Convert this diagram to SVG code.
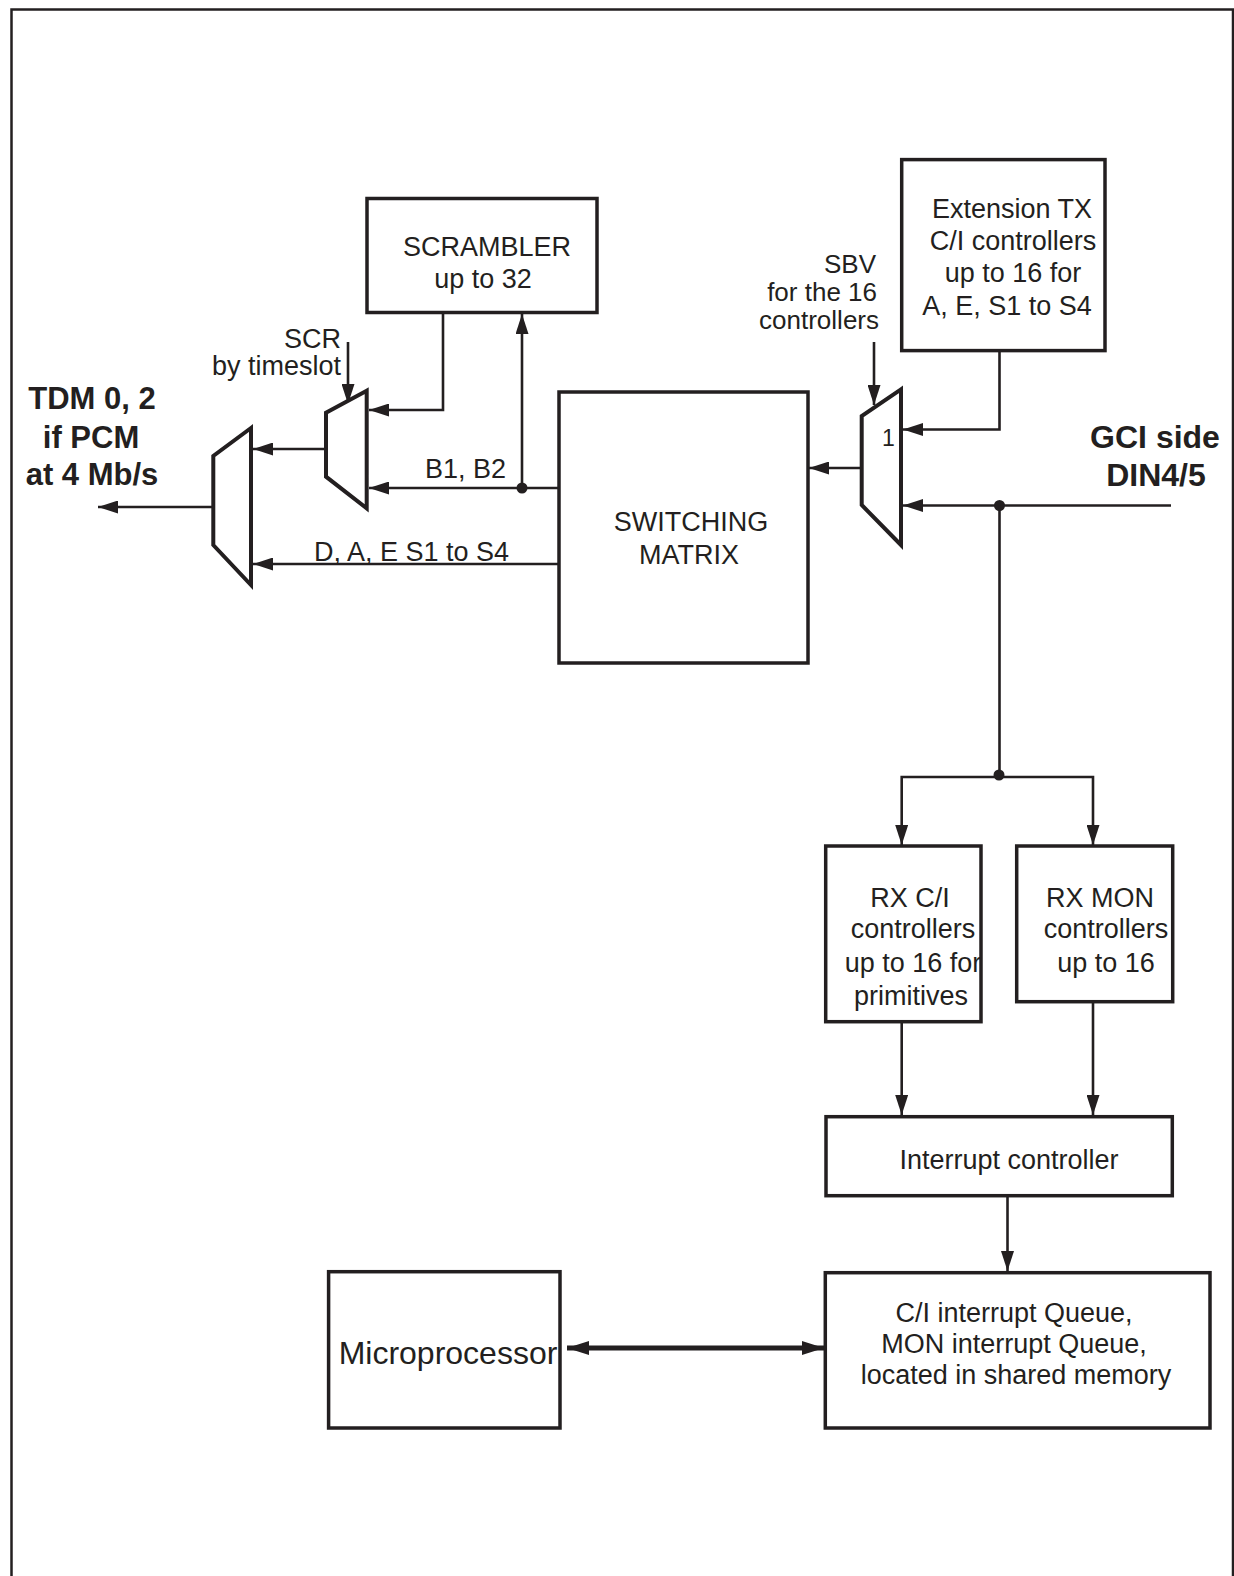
<svg xmlns="http://www.w3.org/2000/svg" width="1234" height="1576" viewBox="0 0 1234 1576">
<style>
.bx{fill:#fff;stroke:#231f20;stroke-width:3.5}
.mx{fill:#fff;stroke:#231f20;stroke-width:4;stroke-linejoin:miter}
.ln{fill:none;stroke:#231f20;stroke-width:2.6}
.t{font-family:"Liberation Sans",Arial,sans-serif;font-size:27px;fill:#231f20}
.m{text-anchor:middle}
.e{text-anchor:end}
.b{font-weight:bold;font-size:31px}
</style>
<defs>
<marker id="ah" viewBox="0 0 20 13" refX="20" refY="6.5" markerWidth="20" markerHeight="13" markerUnits="userSpaceOnUse" orient="auto">
<path d="M0,0 L20,6.5 L0,13 z" fill="#231f20"/>
</marker>
<marker id="ah2" viewBox="0 0 22 14" refX="22" refY="7" markerWidth="22" markerHeight="14" markerUnits="userSpaceOnUse" orient="auto-start-reverse">
<path d="M0,0 L22,7 L0,14 z" fill="#231f20"/>
</marker>
</defs>
<rect width="1234" height="1576" fill="#fff"/>
<rect x="11.5" y="9.5" width="1221.5" height="1600" fill="none" stroke="#231f20" stroke-width="2.5"/>

<g id="connectors">
<path class="ln" d="M443,312.5 V410 H369" marker-end="url(#ah)"/>
<path class="ln" d="M559,488 H369" marker-end="url(#ah)"/>
<path class="ln" d="M522,488 V314" marker-end="url(#ah)"/>
<circle cx="522" cy="488" r="5.5" fill="#231f20"/>
<path class="ln" d="M348,342 V404" marker-end="url(#ah)"/>
<path class="ln" d="M326,449 H253" marker-end="url(#ah)"/>
<path class="ln" d="M559,564 H253" marker-end="url(#ah)"/>
<path class="ln" d="M213,507 H98" marker-end="url(#ah)"/>
<path class="ln" d="M874,342 V405" marker-end="url(#ah)"/>
<path class="ln" d="M999.5,351 V429.5 H903" marker-end="url(#ah)"/>
<path class="ln" d="M1171,505.5 H903" marker-end="url(#ah)"/>
<circle cx="999.5" cy="505.5" r="5.5" fill="#231f20"/>
<path class="ln" d="M862,468 H809" marker-end="url(#ah)"/>
<path class="ln" d="M999.5,505.5 V777"/>
<circle cx="999" cy="775" r="5.5" fill="#231f20"/>
<path class="ln" d="M999.5,777 H901.7 V845" marker-end="url(#ah)"/>
<path class="ln" d="M999.5,777 H1093 V845" marker-end="url(#ah)"/>
<path class="ln" d="M901.7,1022 V1115" marker-end="url(#ah)"/>
<path class="ln" d="M1093,1002 V1115" marker-end="url(#ah)"/>
<path class="ln" d="M1007.5,1196 V1271" marker-end="url(#ah)"/>
<path fill="none" stroke="#231f20" stroke-width="5" d="M567,1348 H824" marker-start="url(#ah2)" marker-end="url(#ah2)"/>
</g>

<g id="scrambler">
<rect class="bx" x="367" y="198.5" width="230" height="114"/>
<text class="t m" x="487" y="256">SCRAMBLER</text>
<text class="t m" x="483" y="288">up to 32</text>
</g>

<g id="scr-label">
<text class="t e" x="341" y="348">SCR</text>
<text class="t e" x="341" y="375">by timeslot</text>
</g>

<g id="mux-small">
<polygon class="mx" points="366.7,390.7 326,412.7 326,476.7 366.7,508.3"/>
</g>

<g id="mux-big">
<polygon class="mx" points="251,428 213.3,456 213.3,545 251,585"/>
</g>

<g id="tdm-label">
<text class="t m b" x="92" y="409">TDM 0, 2</text>
<text class="t m b" x="91" y="448">if PCM</text>
<text class="t m b" x="92" y="485">at 4 Mb/s</text>
</g>

<g id="bus-labels">
<text class="t" x="425" y="478">B1, B2</text>
<text class="t" x="314" y="561">D, A, E S1 to S4</text>
</g>

<g id="switching-matrix">
<rect class="bx" x="559" y="392" width="249" height="271"/>
<text class="t m" x="691" y="531">SWITCHING</text>
<text class="t m" x="689" y="564">MATRIX</text>
</g>

<g id="sbv-label" style="font-size:26px">
<text class="t e" x="876" y="273" style="font-size:26px">SBV</text>
<text class="t e" x="877" y="301" style="font-size:26px">for the 16</text>
<text class="t e" x="879" y="329" style="font-size:26px">controllers</text>
</g>

<g id="mux-right">
<polygon class="mx" points="901,389.3 861.7,416 861.7,505 901,545"/>
<text class="t m" x="888.5" y="446" style="font-size:23px">1</text>
</g>

<g id="ext-tx">
<rect class="bx" x="901.7" y="159.6" width="203.3" height="191"/>
<text class="t m" x="1012" y="218">Extension TX</text>
<text class="t m" x="1013" y="250">C/I controllers</text>
<text class="t m" x="1013" y="282">up to 16 for</text>
<text class="t m" x="1007" y="315">A, E, S1 to S4</text>
</g>

<g id="gci-label">
<text class="t m b" x="1155" y="448" style="font-size:32px">GCI side</text>
<text class="t m b" x="1156" y="486" style="font-size:32px">DIN4/5</text>
</g>

<g id="rx-ci">
<rect class="bx" x="825.7" y="846" width="155.3" height="175.7"/>
<text class="t m" x="910" y="906.7">RX C/I</text>
<text class="t m" x="913" y="938">controllers</text>
<text class="t m" x="913" y="971.7">up to 16 for</text>
<text class="t m" x="911" y="1005">primitives</text>
</g>

<g id="rx-mon">
<rect class="bx" x="1016.7" y="846" width="156" height="155.7"/>
<text class="t m" x="1100" y="906.7">RX MON</text>
<text class="t m" x="1106" y="938">controllers</text>
<text class="t m" x="1106" y="971.7">up to 16</text>
</g>

<g id="interrupt-controller">
<rect class="bx" x="826" y="1116.7" width="346.3" height="79"/>
<text class="t m" x="1009" y="1169">Interrupt controller</text>
</g>

<g id="queue">
<rect class="bx" x="825.3" y="1272.7" width="384.7" height="155.3"/>
<text class="t m" x="1014" y="1322">C/I interrupt Queue,</text>
<text class="t m" x="1014" y="1353">MON interrupt Queue,</text>
<text class="t m" x="1016" y="1384">located in shared memory</text>
</g>

<g id="microprocessor">
<rect class="bx" x="328.6" y="1271.7" width="231.4" height="156.3"/>
<text class="t m" x="448" y="1364" style="font-size:32px">Microprocessor</text>
</g>
</svg>
